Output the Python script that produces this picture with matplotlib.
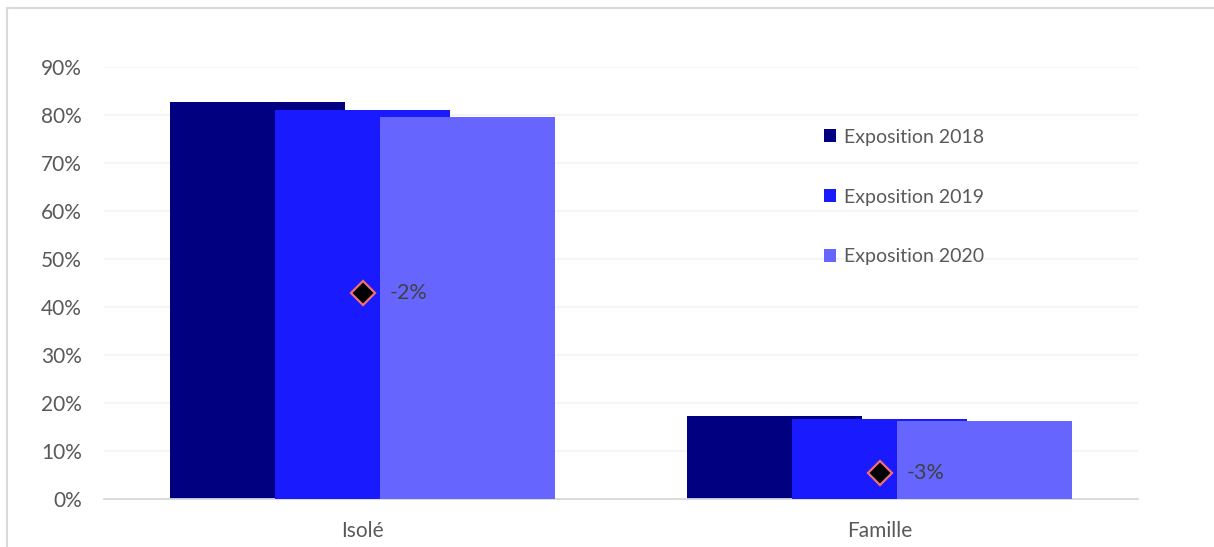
import matplotlib
matplotlib.use("Agg")
import matplotlib.pyplot as plt
from matplotlib.lines import Line2D
from matplotlib.patches import Patch
from matplotlib.ticker import PercentFormatter
import numpy as np

categories = ["Isolé", "Famille"]
series_names = ["Exposition 2018", "Exposition 2019", "Exposition 2020"]
values_2018 = [0.827, 0.173]
values_2019 = [0.810, 0.167]
values_2020 = [0.796, 0.163]
variation_labels = ["-2%", "-3%"]
variation_marker_y = [0.429, 0.054]
colors = ["#000080", "#1a1aff", "#6666ff"]

plt.rcParams['font.family'] = ['Lato', 'DejaVu Sans']
fig = plt.figure(figsize=(12.14, 5.47), dpi=100)
W, H = 1214, 547
ax = fig.add_axes([104 / W, 1 - 499 / H, (1138 - 104) / W, (499 - 67) / H])

x = np.arange(len(categories))
width = 0.339
offset = 0.203
for i, (vals, col, name) in enumerate(zip([values_2018, values_2019, values_2020], colors, series_names)):
    ax.bar(x + (i - 1) * offset, vals, width=width, color=col, label=name, zorder=2 + i)

for xi, yv, lab in zip(x, variation_marker_y, variation_labels):
    ax.plot(xi, yv, marker="D", markersize=12, markerfacecolor="black",
            markeredgecolor="#f07070", markeredgewidth=1.6, linestyle="none", zorder=10)
    ax.annotate(lab, (xi, yv), xytext=(27, 0), textcoords="offset pixels",
                va="center", ha="left", fontsize=15.5, color="#404040", zorder=11)

ax.set_xlim(-0.5, 1.5)
ax.set_ylim(0, 0.9)
ax.set_yticks(np.arange(0, 0.91, 0.1))
ax.yaxis.set_major_formatter(PercentFormatter(1.0, decimals=0))
ax.set_xticks(x)
ax.set_xticklabels(categories)
ax.grid(axis="y", color="#f2f2f2", linewidth=1.2, zorder=0)
ax.set_axisbelow(True)
for s in ["top", "right", "left"]:
    ax.spines[s].set_visible(False)
ax.spines["bottom"].set_color("#d9d9d9")
ax.spines["bottom"].set_linewidth(1.3)
ax.tick_params(axis="both", length=0, labelsize=15, colors="#595959")
ax.tick_params(axis="y", pad=16)
ax.tick_params(axis="x", pad=16)

handles = [Patch(facecolor=c, edgecolor="none") for c in colors]
leg = ax.legend(handles, series_names, loc="upper left",
                bbox_to_anchor=(816 / W, 1 - 121 / H), bbox_transform=fig.transFigure,
                frameon=False, fontsize=14, labelcolor="#595959",
                handlelength=0.65, handleheight=0.65, handletextpad=0.4,
                labelspacing=2.2, borderaxespad=0)

fx = 7 / W
fy = 1 - 8 / H
fig.add_artist(Line2D([fx, 1.0], [fy, fy], transform=fig.transFigure, color="#d9d9d9", linewidth=1.5))
fig.add_artist(Line2D([fx, fx], [0.0, fy], transform=fig.transFigure, color="#d9d9d9", linewidth=1.5))

fig.savefig("out.png", dpi=100)
